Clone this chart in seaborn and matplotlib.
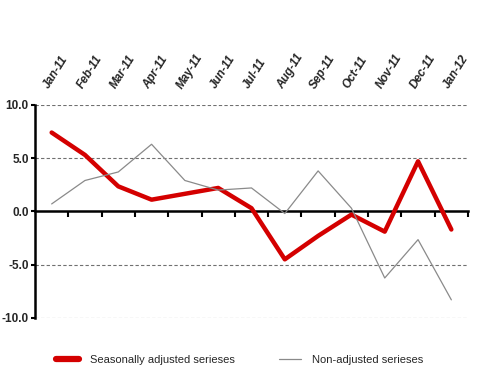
import matplotlib
matplotlib.use("Agg")
import matplotlib.pyplot as plt
import seaborn as sns
import pandas as pd
from matplotlib.lines import Line2D

# Chart data
months = ["Jan-11", "Feb-11", "Mar-11", "Apr-11", "May-11", "Jun-11", "Jul-11",
          "Aug-11", "Sep-11", "Oct-11", "Nov-11", "Dec-11", "Jan-12"]
seasonally_adjusted = [7.4, 5.3, 2.35, 1.1, 1.65, 2.2, 0.3, -4.5, -2.3, -0.3, -1.9, 4.7, -1.7]
non_adjusted = [0.7, 2.9, 3.7, 6.3, 2.9, 2.0, 2.2, -0.2, 3.8, 0.3, -6.25, -2.65, -8.3]
y_ticks = [-10.0, -5.0, 0.0, 5.0, 10.0]
series_names = ["Seasonally adjusted serieses", "Non-adjusted serieses"]

sns.set_theme(style="white")
plt.rcParams['font.family'] = ['Liberation Sans Narrow', 'Liberation Sans', 'DejaVu Sans']

df = pd.DataFrame({
    "pos": list(range(len(months))) * 2,
    "value": seasonally_adjusted + non_adjusted,
    "series": [series_names[0]] * len(months) + [series_names[1]] * len(months),
})

RED = "#d40000"
GREY = "#8a8a8a"

fig = plt.figure(figsize=(5, 3.84), dpi=100)
ax = fig.add_axes([0.07, 0.172, 0.866, 0.555])

sns.lineplot(data=df, x="pos", y="value", hue="series", size="series",
             palette={series_names[0]: RED, series_names[1]: GREY},
             sizes={series_names[0]: 3.2, series_names[1]: 0.9},
             legend=False, ax=ax)

ax.set_xlim(-0.5, len(months) - 0.5)
ax.set_ylim(-10, 10)
ax.set_xlabel("")
ax.set_ylabel("")

# dashed gridlines (zero line is the axis itself)
for v in y_ticks:
    if v != 0:
        ax.axhline(v, color="#707070", linestyle=(0, (3, 2)), linewidth=0.8, zorder=0)

for s in ["top", "right"]:
    ax.spines[s].set_visible(False)
ax.spines["bottom"].set_position(("data", 0))
for s in ["bottom", "left"]:
    ax.spines[s].set_color("black")
    ax.spines[s].set_linewidth(1.8)
ax.spines["bottom"].set_zorder(1)

# month labels on top, tick marks on the zero line between months
ax.set_xticks(range(len(months)))
ax.set_xticklabels(months, rotation=58, ha="left", rotation_mode="anchor",
                   fontsize=8.5, fontweight="bold", fontstyle="italic")
ax.set_xticks([k + 0.5 for k in range(len(months))], minor=True)
ax.tick_params(axis="x", which="major", top=False, bottom=False,
               labeltop=True, labelbottom=False, pad=4)
ax.tick_params(axis="x", which="minor", bottom=True, direction="out",
               length=4, width=1.5, color="black")

ax.set_yticks(y_ticks)
ax.set_yticklabels([f"{v:.1f}" for v in y_ticks], fontsize=8.5, fontweight="bold")
ax.tick_params(axis="y", left=True, direction="out", length=3, width=1.5,
               color="black", pad=1.5)

handles = [Line2D([], [], color=RED, linewidth=4.5, solid_capstyle="round"),
           Line2D([], [], color=GREY, linewidth=0.9)]
fig.legend(handles, series_names,
           loc="center", bbox_to_anchor=(0.48, 0.063), ncol=2, frameon=False,
           fontsize=8, handlelength=2.0, columnspacing=4, handletextpad=1.0)

fig.savefig("out.png", dpi=100)
